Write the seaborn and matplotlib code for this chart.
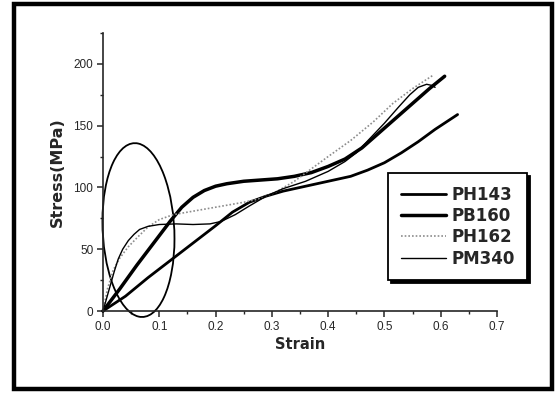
import numpy as np
import pandas as pd
import matplotlib
matplotlib.use("Agg")
import matplotlib.pyplot as plt
import matplotlib.transforms as mtransforms
from matplotlib.patches import Ellipse, Rectangle
from matplotlib.ticker import MultipleLocator
import seaborn as sns

# 讀圖估出的應力-應變資料
ph143_strain = [0, 0.04, 0.08, 0.12, 0.16, 0.20, 0.23, 0.26, 0.29, 0.32, 0.36, 0.40, 0.44,
                0.47, 0.50, 0.53, 0.56, 0.59, 0.63]
ph143_stress = [0, 12, 27, 41, 55, 69, 80, 88, 93, 97, 101, 105, 109,
                114, 120, 128, 137, 147, 159]

pb160_strain = [0, 0.03, 0.06, 0.09, 0.12, 0.14, 0.16, 0.18, 0.20, 0.22, 0.25, 0.28, 0.31,
                0.34, 0.37, 0.40, 0.43, 0.46, 0.49, 0.52, 0.55, 0.58, 0.607]
pb160_stress = [0, 18, 37, 55, 73, 84, 92, 97.5, 101, 103, 105, 106, 107,
                109, 112, 117, 123, 132, 144, 156, 168, 180, 190]

ph162_strain = [0, 0.008, 0.018, 0.03, 0.045, 0.062, 0.08, 0.10, 0.125, 0.15, 0.20, 0.25,
                0.28, 0.31, 0.34, 0.37, 0.40, 0.44, 0.48, 0.515, 0.55, 0.587]
ph162_stress = [0, 18, 33, 43, 52, 60, 68, 74, 78, 80, 84, 88,
                91, 97, 105, 115, 125, 138, 153, 168, 180, 191]

pm340_strain = [0, 0.005, 0.01, 0.015, 0.02, 0.027, 0.035, 0.045, 0.055, 0.065, 0.08, 0.10,
                0.13, 0.16, 0.19, 0.21, 0.235, 0.26, 0.29, 0.32, 0.36, 0.40, 0.43, 0.45,
                0.475, 0.50, 0.525, 0.545, 0.56, 0.575, 0.585, 0.59]
pm340_stress = [0, 8, 16, 24, 32, 42, 50, 57, 62, 66, 68.5, 70,
                70.5, 70, 70.5, 72.5, 78, 85, 93, 99, 105, 113, 121, 128,
                140, 152, 165, 175, 181, 183.5, 182.5, 181]

series_names = ["PH143", "PB160", "PH162", "PM340"]
series_x = [ph143_strain, pb160_strain, ph162_strain, pm340_strain]
series_y = [ph143_stress, pb160_stress, ph162_stress, pm340_stress]

# 圈起來的區域 (中心, 半徑, 傾斜)
ellipse_center = (0.063, 65.5)
ellipse_rx = 0.064
ellipse_ry = 70
ellipse_tilt = -7

x_ticks = [0.0, 0.1, 0.2, 0.3, 0.4, 0.5, 0.6, 0.7]
y_ticks = [0, 50, 100, 150, 200]

sns.set_style("ticks")
plt.rcParams['font.family'] = ['Liberation Sans', 'DejaVu Sans']

styles = {
    "PH143": dict(color="black", lw=2.0, ls="-"),
    "PB160": dict(color="black", lw=2.5, ls="-"),
    "PH162": dict(color="0.55", lw=1.2, ls=(0, (1, 1.2))),
    "PM340": dict(color="black", lw=1.0, ls="-"),
}

fig = plt.figure(figsize=(5.6, 3.93), dpi=100)
ax = fig.add_axes([103/560, 1-311/393, (497-103)/560, (311-33)/393])

for name, xs, ys in zip(series_names, series_x, series_y):
    df = pd.DataFrame({"Strain": xs, "Stress": ys})
    st = styles[name]
    sns.lineplot(data=df, x="Strain", y="Stress", ax=ax, sort=False, label=name,
                 color=st["color"], linewidth=st["lw"], linestyle=st["ls"], clip_on=False)

# 橢圓標記
tr = mtransforms.Affine2D(np.array([[ellipse_rx, 0, ellipse_center[0]],
                                    [ellipse_tilt, ellipse_ry, ellipse_center[1]],
                                    [0, 0, 1]])) + ax.transData
ell = Ellipse((0, 0), 2, 2, transform=tr, fill=False, edgecolor="black", lw=1.3, clip_on=False)
ax.add_patch(ell)

ax.set_xlim(0, 0.7)
ax.set_ylim(0, 225)
ax.set_xticks(x_ticks)
ax.set_xticklabels([f"{v:.1f}" for v in x_ticks])
ax.set_yticks(y_ticks)
ax.xaxis.set_minor_locator(MultipleLocator(0.05))
ax.yaxis.set_minor_locator(MultipleLocator(25))
ax.tick_params(which="major", direction="out", length=4, width=1.1, labelsize=8.5, pad=3)
ax.tick_params(which="minor", direction="out", length=2.5, width=1.0)
sns.despine(ax=ax)
for s in ["left", "bottom"]:
    ax.spines[s].set_linewidth(1.2)
ax.set_xlabel("Strain", fontsize=10.5, fontweight="bold", labelpad=3, family="DejaVu Sans")
ax.set_ylabel("Stress(MPa)", fontsize=11.5, fontweight="bold", labelpad=6, family="DejaVu Sans")

leg = ax.legend(loc="upper left", bbox_to_anchor=((388-103)/394, (311-173)/278),
                borderaxespad=0, prop={"weight": "bold", "size": 12, "family": "DejaVu Sans"},
                frameon=True, fancybox=False, framealpha=1, edgecolor="black", handlelength=2.7,
                handletextpad=0.36, labelspacing=0.2, borderpad=0.75,
                shadow={"color": "black", "alpha": 1})
leg.get_frame().set_linewidth(1.3)

# 外框
fig.patches.append(Rectangle((14/560, 1-389/393), (552-14)/560, (389-4)/393,
                             transform=fig.transFigure, fill=False, edgecolor="black", lw=3.2))

fig.savefig("out.png", dpi=100, facecolor="white")
